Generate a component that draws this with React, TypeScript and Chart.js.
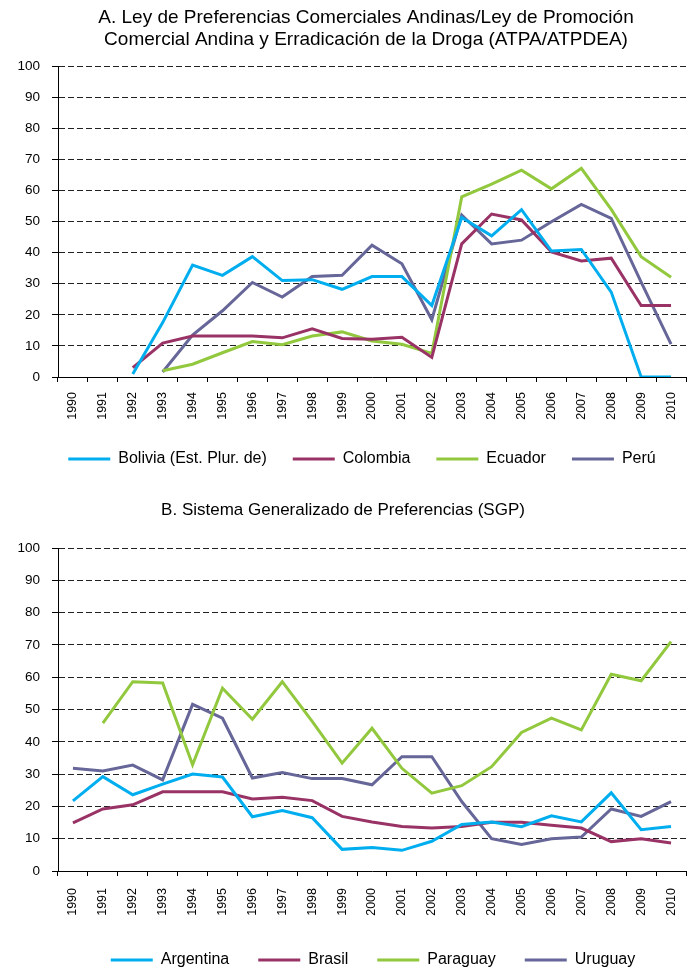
import React, { useEffect, useRef } from "react";
import { Chart, registerables } from "chart.js";

Chart.register(...registerables);

const FONT = "'Liberation Sans', Arial, Helvetica, sans-serif";

const years = [
  "1990", "1991", "1992", "1993", "1994", "1995", "1996", "1997", "1998", "1999", "2000",
  "2001", "2002", "2003", "2004", "2005", "2006", "2007", "2008", "2009", "2010",
];

const yTicks = [0, 10, 20, 30, 40, 50, 60, 70, 80, 90, 100];

const titleA = [
  "A. Ley de Preferencias Comerciales Andinas/Ley de Promoción",
  "Comercial Andina y Erradicación de la Droga (ATPA/ATPDEA)",
];
const titleB = "B. Sistema Generalizado de Preferencias (SGP)";

const seriesNamesA = ["Bolivia (Est. Plur. de)", "Colombia", "Ecuador", "Perú"];
const seriesNamesB = ["Argentina", "Brasil", "Paraguay", "Uruguay"];

const bolivia = [null, null, 1, 17.5, 36, 32.7, 38.7, 31, 31.3, 28.2, 32.3, 32.3, 23, 51.3, 45.4, 53.8, 40.5, 41, 27.3, 0, 0];
const colombia = [null, null, 3, 10.9, 13.2, 13.2, 13.2, 12.6, 15.5, 12.4, 12.1, 12.8, 6.3, 42.8, 52.4, 50.5, 40.2, 37.3, 38.2, 23, 23];
const ecuador = [null, null, null, 2, 4.1, 7.8, 11.4, 10.4, 13.2, 14.5, 11.6, 10.5, 7.6, 57.9, 62, 66.5, 60.5, 67.1, 53.9, 38.7, 32.1];
const peru = [null, null, null, 1.6, 13.5, 21.3, 30.4, 25.7, 32.3, 32.7, 42.4, 36.4, 18.4, 52.1, 42.8, 44, 49.9, 55.5, 51, 30.5, 10.6];

const argentina = [21.7, 29.2, 23.6, 26.9, 30, 29.1, 16.8, 18.7, 16.5, 6.7, 7.3, 6.4, 9.2, 14.4, 15.2, 13.7, 17.1, 15.2, 24.2, 12.8, 13.8];
const brasil = [14.9, 19.2, 20.5, 24.5, 24.5, 24.5, 22.3, 22.8, 21.8, 16.9, 15.2, 13.8, 13.3, 13.8, 15.1, 15.1, 14.2, 13.3, 9.1, 10, 8.7];
const paraguay = [null, 45.8, 58.6, 58.2, 32.9, 56.6, 47, 58.6, 46.3, 33.4, 44.2, 31.8, 24.1, 26.4, 32.3, 42.9, 47.3, 43.7, 60.9, 58.9, 71];
const uruguay = [31.8, 31, 32.8, 28.2, 51.6, 47.3, 28.8, 30.5, 28.6, 28.6, 26.7, 35.4, 35.4, 21.5, 10, 8.2, 10, 10.5, 19.2, 16.9, 21.5];

const COLORS = ["#00AEEF", "#993366", "#92C83E", "#666699"];

type Spec = {
  title: string | string[];
  titleSize: number;
  titleLineHeight: number;
  titlePad: { top: number; bottom: number };
  titleShift: number;
  names: string[];
  values: (number | null)[][];
  xHeight: number;
  xPad: number;
  legendPadding: number;
  legendShift: number;
  bottomPad: number;
  height: number;
};

function LineChart({ spec }: { spec: Spec }) {
  const ref = useRef<HTMLCanvasElement | null>(null);
  useEffect(() => {
    if (!ref.current) return;
    const shift = {
      id: "boxShift",
      afterLayout(chart: any) {
        const l = chart.legend;
        if (l) {
          l.left += spec.legendShift;
          l.right += spec.legendShift;
        }
        const t = chart.titleBlock;
        if (t) {
          t.left += spec.titleShift;
          t.right += spec.titleShift;
        }
      },
    };
    const chart = new Chart(ref.current, {
      type: "line",
      data: {
        labels: years,
        datasets: spec.names.map((n, i) => ({
          label: n,
          data: spec.values[i],
          borderColor: COLORS[i],
          backgroundColor: COLORS[i],
          borderWidth: 3,
          pointRadius: 0,
          pointHoverRadius: 0,
          tension: 0,
          fill: false,
          spanGaps: false,
          borderJoinStyle: "miter" as const,
        })),
      },
      options: {
        responsive: false,
        animation: false,
        devicePixelRatio: 1,
        layout: { padding: { left: 0, right: 5, top: 0, bottom: spec.bottomPad } },
        plugins: {
          tooltip: { enabled: false },
          title: {
            display: true,
            text: spec.title,
            color: "#000",
            font: { family: FONT, size: spec.titleSize, weight: "normal", lineHeight: spec.titleLineHeight },
            padding: spec.titlePad,
          },
          legend: {
            position: "bottom",
            labels: {
              color: "#000",
              boxWidth: 42,
              boxHeight: 3,
              padding: spec.legendPadding,
              font: { family: FONT, size: 16 },
              generateLabels: (chart: any) =>
                chart.data.datasets.map((d: any, i: number) => ({
                  text: d.label,
                  fillStyle: d.borderColor,
                  strokeStyle: d.borderColor,
                  lineWidth: 0,
                  hidden: false,
                  datasetIndex: i,
                  fontColor: "#000",
                })),
            },
          },
        },
        scales: {
          x: {
            type: "category",
            offset: true,
            grid: {
              display: true,
              offset: true,
              drawOnChartArea: false,
              drawTicks: true,
              tickLength: 5,
              color: "#000",
              tickColor: "#000",
            },
            border: { display: true, color: "#000", width: 1 },
            ticks: {
              autoSkip: false,
              minRotation: 90,
              maxRotation: 90,
              padding: spec.xPad,
              color: "#000",
              font: { family: FONT, size: 12.5 },
            },
            afterFit: (s: any) => {
              s.height = spec.xHeight;
              s.paddingLeft = 0;
              s.paddingRight = 0;
            },
          },
          y: {
            min: 0,
            max: 100,
            afterBuildTicks: (s: any) => {
              s.ticks = yTicks.map((v) => ({ value: v }));
            },
            ticks: {
              padding: 12,
              color: "#000",
              font: { family: FONT, size: 13.5 },
            },
            grid: {
              color: "#222",
              lineWidth: 1,
              tickLength: 6,
              tickColor: "#000",
              drawTicks: true,
            },
            border: { display: true, color: "#000", width: 1, dash: [6, 3] },
            afterFit: (s: any) => {
              s.width = 58;
            },
          },
        },
      },
      plugins: [shift],
    } as any);
    return () => chart.destroy();
  }, [spec]);
  return (
    <canvas
      ref={ref}
      width={691}
      height={spec.height}
      style={{ display: "block", width: 691, height: spec.height }}
    />
  );
}

const specA: Spec = {
  title: titleA,
  titleSize: 19,
  titleLineHeight: 1.15,
  titlePad: { top: 6.5, bottom: 15.8 },
  titleShift: 23,
  names: seriesNamesA,
  values: [bolivia, colombia, ecuador, peru],
  xHeight: 48,
  xPad: 10,
  legendPadding: 26,
  legendShift: 19,
  bottomPad: 7,
  height: 484,
};

const specB: Spec = {
  title: titleB,
  titleSize: 17,
  titleLineHeight: 1.25,
  titlePad: { top: 16, bottom: 26.75 },
  titleShift: 0,
  names: seriesNamesB,
  values: [argentina, brasil, paraguay, uruguay],
  xHeight: 52,
  xPad: 12,
  legendPadding: 29,
  legendShift: 30,
  bottomPad: 0,
  height: 494,
};

export default function App() {
  return (
    <div
      style={{
        position: "absolute",
        left: 0,
        top: 0,
        width: 691,
        height: 969,
        overflow: "hidden",
        background: "#fff",
      }}
    >
      <LineChart spec={specA} />
      <LineChart spec={specB} />
    </div>
  );
}
